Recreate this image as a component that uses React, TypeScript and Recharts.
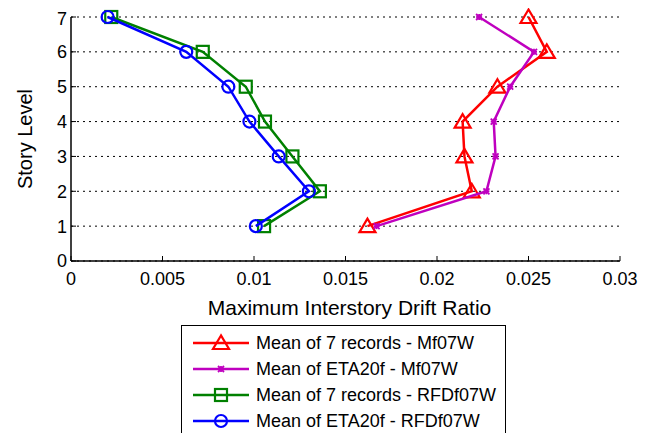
import React from 'react';
import { ScatterChart, Scatter, XAxis, YAxis, CartesianGrid } from 'recharts';

const storyLevels = [1, 2, 3, 4, 5, 6, 7];
const mean7Mf07W = [0.0162, 0.0219, 0.0215, 0.0214, 0.0233, 0.026, 0.025];
const etaMf07W = [0.0167, 0.0227, 0.0232, 0.0231, 0.024, 0.0253, 0.0223];
const mean7RFDf07W = [0.01055, 0.0136, 0.0121, 0.0106, 0.00955, 0.0072, 0.0022];
const etaRFDf07W = [0.0101, 0.013, 0.01135, 0.00975, 0.0086, 0.0063, 0.002];

const xTicks = [0, 0.005, 0.01, 0.015, 0.02, 0.025, 0.03];
const xTickLabels = ['0', '0.005', '0.01', '0.015', '0.02', '0.025', '0.03'];
const yTicks = [0, 1, 2, 3, 4, 5, 6, 7];

const seriesNames = [
  'Mean of 7 records - Mf07W',
  'Mean of ETA20f - Mf07W',
  'Mean of 7 records - RFDf07W',
  'Mean of ETA20f - RFDf07W',
];
const seriesColors = ['#ff0000', '#bf00bf', '#008000', '#0000ff'];
const seriesMarkers = ['triangle', 'star', 'square', 'circle'];
const seriesValues = [mean7Mf07W, etaMf07W, mean7RFDf07W, etaRFDf07W];

const FONT = '"Liberation Sans", Arial, Helvetica, sans-serif';

function Marker({ kind, color, cx, cy }: { kind: string; color: string; cx: number; cy: number }) {
  if (kind === 'triangle') {
    return (
      <polygon
        points={`${cx},${cy - 7.5} ${cx - 8},${cy + 6} ${cx + 8},${cy + 6}`}
        fill="none"
        stroke={color}
        strokeWidth={2.2}
      />
    );
  }
  if (kind === 'square') {
    return <rect x={cx - 6} y={cy - 6} width={12} height={12} fill="none" stroke={color} strokeWidth={2.2} />;
  }
  if (kind === 'circle') {
    return <circle cx={cx} cy={cy} r={6} fill="none" stroke={color} strokeWidth={2.2} />;
  }
  const s = 3;
  return (
    <g stroke={color} strokeWidth={1.8}>
      <line x1={cx - s} y1={cy} x2={cx + s} y2={cy} />
      <line x1={cx} y1={cy - s} x2={cx} y2={cy + s} />
      <line x1={cx - s} y1={cy - s} x2={cx + s} y2={cy + s} />
      <line x1={cx - s} y1={cy + s} x2={cx + s} y2={cy - s} />
    </g>
  );
}

export default function App() {
  const series = seriesValues.map((vals) => storyLevels.map((s, i) => ({ x: vals[i], y: s })));
  return (
    <div style={{ position: 'relative', width: 645, height: 425, fontFamily: FONT }}>
      <ScatterChart width={645} height={425} margin={{ top: 9, right: 33, left: 0, bottom: 112 }}>
        <CartesianGrid
          horizontal={true}
          vertical={false}
          stroke="#000"
          strokeDasharray="2 4"
          strokeWidth={1}
        />
        <XAxis
          type="number"
          dataKey="x"
          domain={[0, 0.03]}
          ticks={xTicks}
          allowDataOverflow
          height={60}
          tickSize={-5}
          tickMargin={16}
          tickFormatter={(v: number) => xTickLabels[xTicks.indexOf(v)] ?? String(v)}
          axisLine={{ stroke: '#000', strokeWidth: 1.5 }}
          tickLine={{ stroke: '#000' }}
          tick={{ fill: '#000', fontSize: 18, fontFamily: FONT }}
          label={{
            value: 'Maximum Interstory Drift Ratio',
            position: 'insideTop',
            offset: 39,
            dx: 4,
            style: { fill: '#000', fontSize: 21, fontFamily: FONT },
          }}
        />
        <XAxis
          xAxisId="top"
          orientation="top"
          type="number"
          dataKey="x"
          domain={[0, 0.03]}
          ticks={xTicks}
          height={0}
          tickSize={-5}
          tickFormatter={() => ''}
          axisLine={{ stroke: '#000', strokeWidth: 1.5 }}
          tickLine={{ stroke: '#000' }}
        />
        <YAxis
          type="number"
          dataKey="y"
          domain={[0, 7]}
          ticks={yTicks}
          width={63}
          tickSize={-5}
          tickMargin={9}
          axisLine={{ stroke: '#000', strokeWidth: 1.5 }}
          tickLine={{ stroke: '#000' }}
          tick={{ fill: '#000', fontSize: 18, fontFamily: FONT }}
          label={{
            value: 'Story Level',
            angle: -90,
            position: 'insideLeft',
            offset: 17,
            style: { fill: '#000', fontSize: 20, fontFamily: FONT, textAnchor: 'middle' },
          }}
        />
        <YAxis
          yAxisId="right"
          orientation="right"
          type="number"
          dataKey="y"
          domain={[0, 7]}
          ticks={yTicks}
          width={0}
          tickSize={-5}
          tickFormatter={() => ''}
          axisLine={{ stroke: '#000', strokeWidth: 1.5 }}
          tickLine={{ stroke: '#000' }}
        />
        {series.map((data, k) => (
          <Scatter
            key={seriesNames[k]}
            name={seriesNames[k]}
            data={data}
            line={{ stroke: seriesColors[k], strokeWidth: 2.5 }}
            lineType="joint"
            isAnimationActive={false}
            shape={(p: any) => <Marker kind={seriesMarkers[k]} color={seriesColors[k]} cx={p.cx} cy={p.cy} />}
          />
        ))}
      </ScatterChart>
      <div
        style={{
          position: 'absolute',
          left: 173,
          top: 317,
          width: 323,
          height: 120,
          border: '1px solid #000',
          background: '#fff',
        }}
      >
        <svg width={323} height={120}>
          {seriesNames.map((name, k) => {
            const cy = 17 + k * 26;
            return (
              <g key={name}>
                <line x1={11} y1={cy} x2={67} y2={cy} stroke={seriesColors[k]} strokeWidth={2.5} />
                <Marker kind={seriesMarkers[k]} color={seriesColors[k]} cx={39} cy={cy} />
                <text x={74} y={cy} dy="0.355em" fontSize={18} fontFamily={FONT} fill="#000">
                  {name}
                </text>
              </g>
            );
          })}
        </svg>
      </div>
    </div>
  );
}
